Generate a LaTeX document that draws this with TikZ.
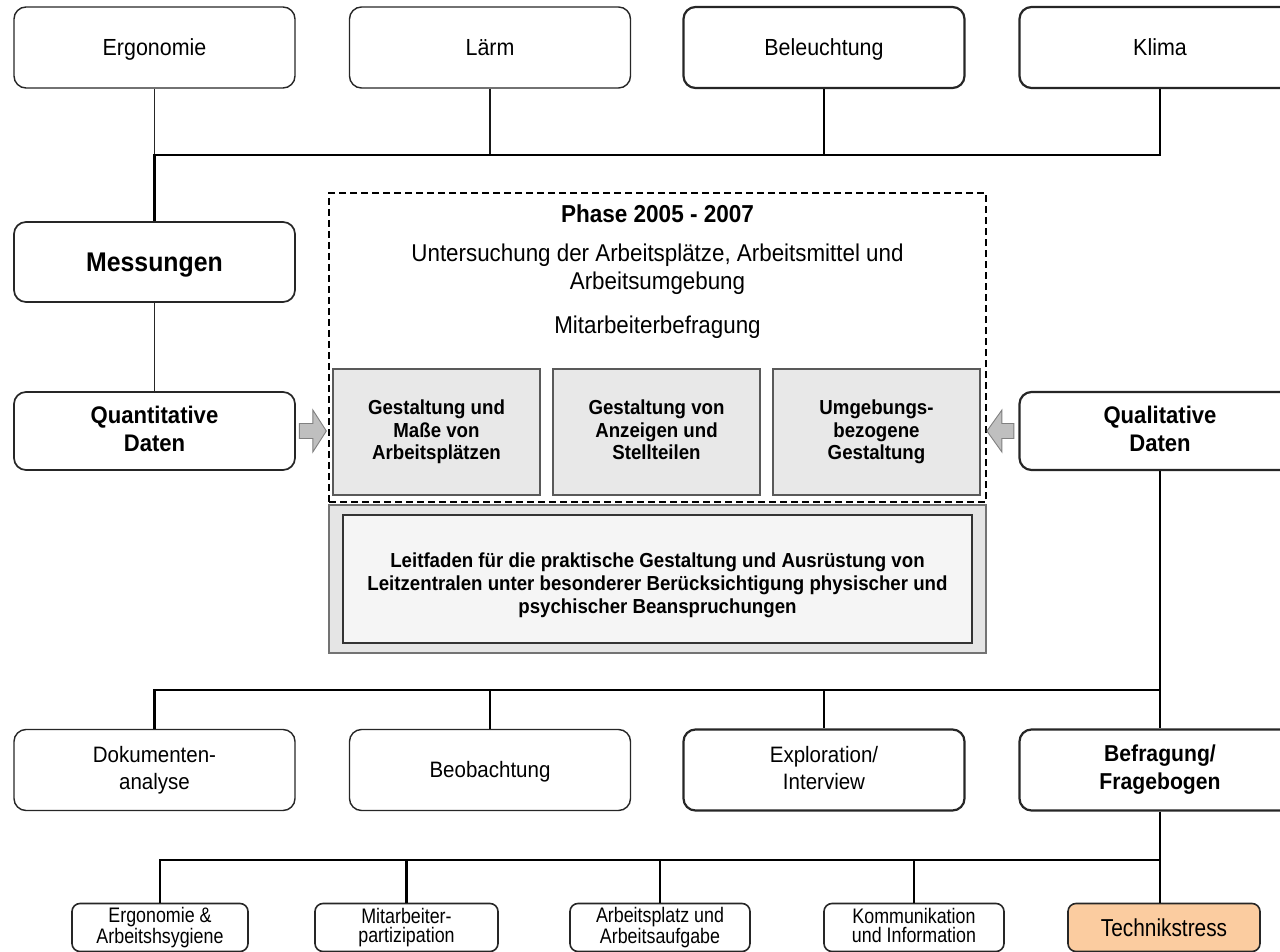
\documentclass[tikz,border=0pt]{standalone}
\usepackage{fontspec}
\setmainfont{Liberation Sans}[FakeStretch=0.92]
\newfontfamily\narrowfont{Liberation Sans}[FakeStretch=0.85]
% strut that makes every label centred on its cap height
\newcommand\capstrut{\rule[-0.21em]{0pt}{1.136em}}
\begin{document}
\begin{tikzpicture}[x=1pt,y=-1pt,
  every node/.style={inner sep=0pt},
  lbl/.style={align=center, execute at begin node=\capstrut, execute at end node=\capstrut},
  box/.style={lbl, draw=black!85, line width=1.4pt, rounded corners=12pt,
    minimum width=281pt, minimum height=81pt,
    font=\fontsize{23.3}{29}\selectfont},
  boxb/.style={box, line width=2.2pt},
  rowtwo/.style={font=\fontsize{22.3}{27}\selectfont},
  smallbox/.style={lbl, draw=black!85, line width=1.6pt, rounded corners=8pt,
    minimum height=48pt, font=\narrowfont\fontsize{21}{18.5}\selectfont},
  graybox/.style={lbl, draw=black!65, line width=1.2pt, fill=black!9,
    minimum width=207pt, minimum height=126pt,
    font=\fontsize{20.3}{22.5}\selectfont\bfseries},
  thinline/.style={line width=0.9pt, draw=black!85},
  midline/.style={line width=1.7pt, draw=black!90},
  thickline/.style={line width=2.6pt, draw=black},
  blockarrow/.style={draw=black!50, fill=black!25, line width=0.9pt, line join=miter}
]
\useasboundingbox (0,0) rectangle (1280,952);

% top row: influence factors
\node[box]  (ergo)  at (154.5,47.5) {Ergonomie};
\node[box]  (laerm) at (490,47.5)   {Lärm};
\node[boxb] (bel)   at (824,47.5)   {Beleuchtung};
\node[boxb] (klima) at (1160,47.5)  {Klima};

% left column: measurements
\node[box, line width=1.7pt, minimum height=80pt, font=\fontsize{27}{29}\selectfont\bfseries]
  (mess) at (154.5,262) {Messungen};
\node[box, line width=1.7pt, minimum height=78pt, font=\fontsize{24}{28}\selectfont\bfseries]
  (quant) at (154.5,431) {Quantitative\\Daten};

% right column
\node[boxb, minimum height=78pt, font=\fontsize{24}{28}\selectfont\bfseries]
  (qual) at (1160,431) {Qualitative\\Daten};

% central phase block
\node[draw=black, line width=2.6pt, dash pattern=on 7pt off 4pt,
      minimum width=657pt, minimum height=309pt] (phase) at (657.5,347.5) {};
\node[lbl, font=\fontsize{24.5}{28}\selectfont\bfseries] (ptitle) at (657.5,214) {Phase 2005 - 2007};
\node[lbl, font=\fontsize{24.3}{28}\selectfont] (unters) at (657.5,269)
  {Untersuchung der Arbeitsplätze, Arbeitsmittel und\\Arbeitsumgebung};
\node[lbl, font=\fontsize{24.3}{28}\selectfont] (mitb) at (657.5,325) {Mitarbeiterbefragung};

\node[graybox] (g1) at (436.5,432) {Gestaltung und\\Maße von\\Arbeitsplätzen};
\node[graybox] (g2) at (656.5,432) {Gestaltung von\\Anzeigen und\\Stellteilen};
\node[graybox] (g3) at (876.5,432) {Umgebungs-\\bezogene\\Gestaltung};

% guideline result
\node[draw=black!55, line width=1.4pt, fill=black!10,
      minimum width=657pt, minimum height=148pt] (leitout) at (657.5,579) {};
\node[draw=black!80, line width=1.4pt, fill=black!4,
      minimum width=629pt, minimum height=128pt] (leitin) at (657.5,579) {};
\node[lbl, font=\fontsize{20.3}{23}\selectfont\bfseries] (leittxt) at (657.5,585)
  {Leitfaden für die praktische Gestaltung und Ausrüstung von\\
   Leitzentralen unter besonderer Berücksichtigung physischer und\\
   psychischer Beanspruchungen};

% block arrows into the phase block
\coordinate (qa) at (quant.east);
\coordinate (la) at (qual.west);
\draw[blockarrow] (qa) ++(3.5,-7.5) -- ++(13.5,0) -- ++(0,-13.5) -- ++(13.5,21)
  -- ++(-13.5,21) -- ++(0,-13.5) -- ++(-13.5,0) -- cycle;
\draw[blockarrow] (la) ++(-4.5,-7.5) -- ++(-12,0) -- ++(0,-13.5) -- ++(-15,21)
  -- ++(15,21) -- ++(0,-13.5) -- ++(12,0) -- cycle;

% second row: survey methods
\node[box, rowtwo]  (doku) at (154.5,770) {Dokumenten-\\analyse};
\node[box, rowtwo]  (beob) at (490,770)   {Beobachtung};
\node[boxb, rowtwo] (expl) at (824,770)   {Exploration/\\Interview};
\node[boxb, font=\fontsize{23}{28}\selectfont\bfseries] (befr) at (1160,770) {Befragung/\\Fragebogen};

% bottom row: questionnaire topics
\node[smallbox, minimum width=176pt] (ergh) at (160,927.5) {Ergonomie \&\\Arbeitshsygiene};
\node[smallbox, minimum width=183pt] (mitp) at (406.5,927.5) {Mitarbeiter-\\partizipation};
\node[smallbox, minimum width=180pt] (apl)  at (660,927.5) {Arbeitsplatz und\\Arbeitsaufgabe};
\node[smallbox, minimum width=180pt] (komm) at (914,927.5) {Kommunikation\\und Information};
\node[smallbox, minimum width=192pt,
      fill={rgb,255:red,251;green,204;blue,160},
      font=\narrowfont\fontsize{24.5}{24}\selectfont] (tech) at (1164,927.5) {Technikstress};

% bus lines
\coordinate (b1) at (0,155);
\coordinate (b2) at (0,690);
\coordinate (b3) at (0,860);

\draw[thinline] (ergo.south) -- (ergo.south |- b1);
\draw[midline] (laerm.south) -- (laerm.south |- b1);
\draw[thickline] (bel.south) -- (bel.south |- b1);
\draw[thickline] (klima.south) -- (klima.south |- b1) -- (ergo.south |- b1) -- (mess.north);
\draw[thinline] (mess.south) -- (quant.north);

\draw[thickline] (qual.south) -- (befr.north);
\draw[thickline] (befr.north |- b2) -- (doku.north |- b2) -- (doku.north);
\draw[thickline] (beob.north |- b2) -- (beob.north);
\draw[thickline] (expl.north |- b2) -- (expl.north);

\draw[thickline] (befr.south) -- (befr.south |- b3) -- (ergh.north |- b3) -- (ergh.north);
\draw[thickline] (befr.south |- b3) -- (befr.south |- tech.north);
\draw[thickline] (mitp.north |- b3) -- (mitp.north);
\draw[thickline] (apl.north |- b3) -- (apl.north);
\draw[thickline] (komm.north |- b3) -- (komm.north);
\end{tikzpicture}
\end{document}
